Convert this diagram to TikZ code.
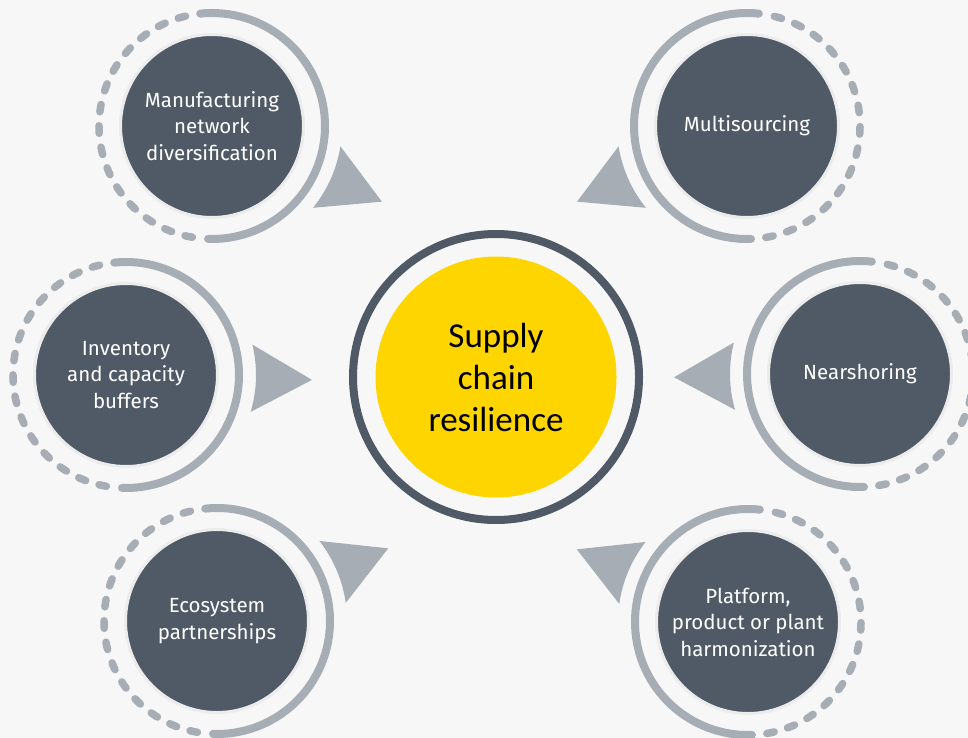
\documentclass[tikz,border=0pt]{standalone}
\usepackage{fontspec}
\setmainfont{Fira Sans}
\newfontfamily\corefont{Carlito}
\usetikzlibrary{calc}
\definecolor{bgc}{HTML}{F7F7F7}
\definecolor{darkc}{HTML}{505A66}
\definecolor{ringc}{HTML}{A7ADB4}
\definecolor{yel}{HTML}{FFD500}
\definecolor{rimc}{HTML}{ECECEC}
\tikzset{
  sat/.style={circle, fill=darkc, draw=rimc, line width=3pt, minimum size=183pt, inner sep=0pt,
    text=white, align=center, font=\fontsize{20.5}{26.5}\selectfont},
  solidring/.style={draw=ringc, line width=8pt, line cap=round},
  dashring/.style={draw=ringc, line width=7.5pt, line cap=round, dash pattern=on 7.5pt off 14pt},
  pointerfill/.style={fill=ringc},
  corebox/.style={circle, fill=yel, minimum size=241pt, inner sep=0pt, align=center,
    text=black, font=\corefont\fontsize{35}{42}\selectfont},
  corering/.style={draw=darkc, line width=8pt},
}
% ring whose solid half faces right
\newcommand\ringR[1]{%
  \draw[solidring] ($(#1)+(-96:113)$) arc[start angle=-96, end angle=92, radius=113];
  \draw[dashring] ($(#1)+(100:113)$) arc[start angle=100, end angle=258, radius=113];}
% ring whose solid half faces left
\newcommand\ringL[1]{%
  \draw[solidring] ($(#1)+(88:113)$) arc[start angle=88, end angle=276, radius=113];
  \draw[dashring] ($(#1)+(-76:113)$) arc[start angle=-76, end angle=82, radius=113];}
% pointer toward the core
\newcommand\pointer[2]{%
  \fill[pointerfill] ($(#1)+(#2-15:130)$) arc[start angle=#2-15, end angle=#2+15, radius=130]
    -- ($(#1)+(#2:186)$) -- cycle;}
\begin{document}
\begin{tikzpicture}[x=1pt, y=-1pt]
\fill[bgc] (0,0) rectangle (968,738);
\useasboundingbox (0,0) rectangle (968,738);

% core
\node[corebox] (core) at (496,377) {Supply\\chain\\resilience};
\draw[corering] (core.center) circle[radius=143];

% satellites
\coordinate (tlc) at (212,126);
\coordinate (trc) at (747,126);
\coordinate (mlc) at (126,375);
\coordinate (mrc) at (860,374);
\coordinate (blc) at (217,621);
\coordinate (brc) at (748,622);

\ringR{tlc} \ringL{trc} \ringR{mlc} \ringL{mrc} \ringR{blc} \ringL{brc}

\pointer{tlc}{24}
\pointer{trc}{156}
\pointer{mlc}{1.5}
\pointer{mrc}{179}
\pointer{blc}{-23}
\pointer{brc}{-157}

\node[sat] (tl) at (tlc) {Manufacturing\\network\\diversification};
\node[sat] (tr) at (trc) {Multisourcing};
\node[sat] (ml) at (mlc) {Inventory\\and capacity\\buffers};
\node[sat] (mr) at (mrc) {Nearshoring};
\node[sat] (bl) at (blc) {Ecosystem\\partnerships};
\node[sat] (br) at (brc) {Platform,\\product or plant\\harmonization};
\end{tikzpicture}
\end{document}
